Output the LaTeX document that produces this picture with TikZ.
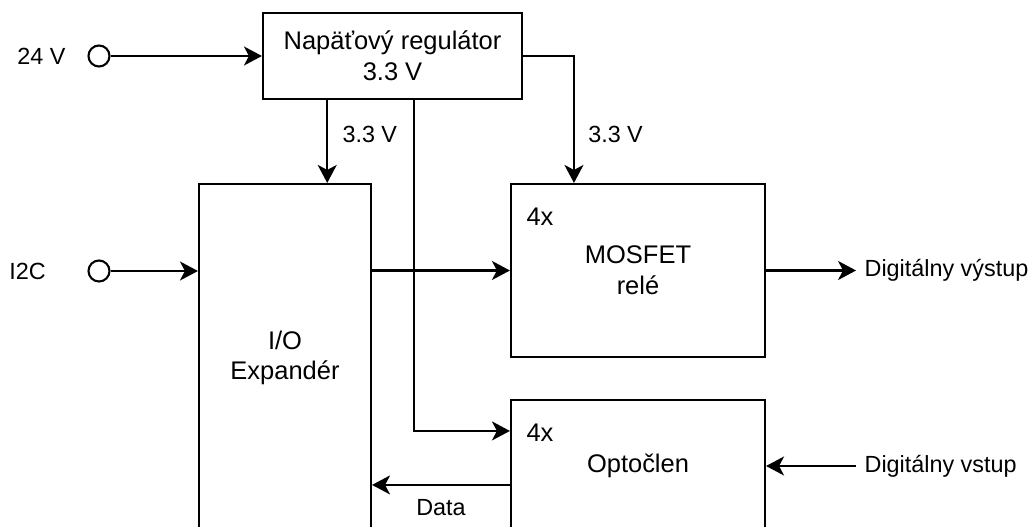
\documentclass[tikz,border=0pt]{standalone}
\usepackage{fontspec}
\setmainfont{Liberation Sans}
\usepackage{tikz}
\usetikzlibrary{arrows.meta, positioning, calc}
\tikzset{
  block/.style={rectangle, draw=black, fill=white, align=center,
    font=\fontsize{14.5}{17.5}\selectfont, line width=1.2pt},
  terminal/.style={circle, draw=black, fill=white, minimum size=0.42cm,
    inner sep=0pt, line width=1.2pt},
  lbl/.style={font=\fontsize{13.3}{16}\selectfont, inner sep=0.165cm},
  count/.style={font=\fontsize{14.5}{17.5}\selectfont, inner sep=0.165cm},
  arrow/.style={-{Stealth[length=0.36cm, width=0.38cm, inset=0.1cm]}, line width=1.2pt, color=black},
  line/.style={line width=1.2pt, color=black}
}

\begin{document}
\begin{tikzpicture}
  \useasboundingbox (0,0) rectangle (20.6,-10.54);

  % Blocks
  \node[block, minimum width=5.18cm, minimum height=1.72cm] (reg) at (7.85,-1.12) {Napäťový regulátor\\3.3 V};
  \node[block, minimum width=3.44cm, minimum height=6.96cm] (io) at (5.70,-7.16) {I/O\\Expandér};
  \node[block, minimum width=5.08cm, minimum height=3.46cm] (mosfet) at (12.76,-5.41) {MOSFET\\relé};
  \node[block, minimum width=5.08cm, minimum height=2.64cm] (opto) at (12.76,-9.32) {Optočlen};
  \node[count, below right=0.32cm and 0.16cm of mosfet.north west] (mcount) {4x};
  \node[count, below right=0.32cm and 0.16cm of opto.north west] (ocount) {4x};

  % Inputs
  \node[terminal] (in24) at (1.98,-1.12) {};
  \node[lbl] (lab24) at (0.83,-1.12) {24 V};
  \node[terminal] (i2c) at (1.98,-5.42) {};
  \node[lbl] (labi2c) at (0.55,-5.42) {I2C};

  % Outputs
  \node[lbl, right=1.80cm of mosfet] (dout) {Digitálny výstup};
  \node[lbl, right=1.80cm of opto] (din) {Digitálny vstup};

  % Tap points
  \coordinate (rs1) at ($(reg.south west)!0.25!(reg.south east)$);
  \coordinate (rs2) at ($(reg.south west)!0.583!(reg.south east)$);
  \coordinate (mtop) at ($(mosfet.north west)!0.25!(mosfet.north east)$);
  \coordinate (optin) at ($(opto.north west)+(0,-0.64)$);
  \coordinate (optout) at ($(opto.north west)+(0,-1.72)$);

  % Connections
  \draw[arrow] (in24) -- (reg);
  \draw[arrow] (i2c) -- (i2c -| io.west);
  \draw[arrow] (rs1) -- (rs1 |- io.north) node[lbl, right, xshift=0.12cm, pos=0.42] {3.3 V};
  \draw[arrow] (reg.east) -| (mtop) node[lbl, right, xshift=0.1cm, pos=0.81] {3.3 V};
  \draw[arrow] (rs2) |- (optin);
  \draw[arrow] (mosfet.west -| io.east) -- (mosfet.west);
  \draw[arrow] (mosfet) -- (dout);
  \draw[arrow] (din) -- (opto);
  \draw[arrow] (optout) -- (optout -| io.east) node[lbl, below=0.1cm, midway] {Data};
\end{tikzpicture}
\end{document}
